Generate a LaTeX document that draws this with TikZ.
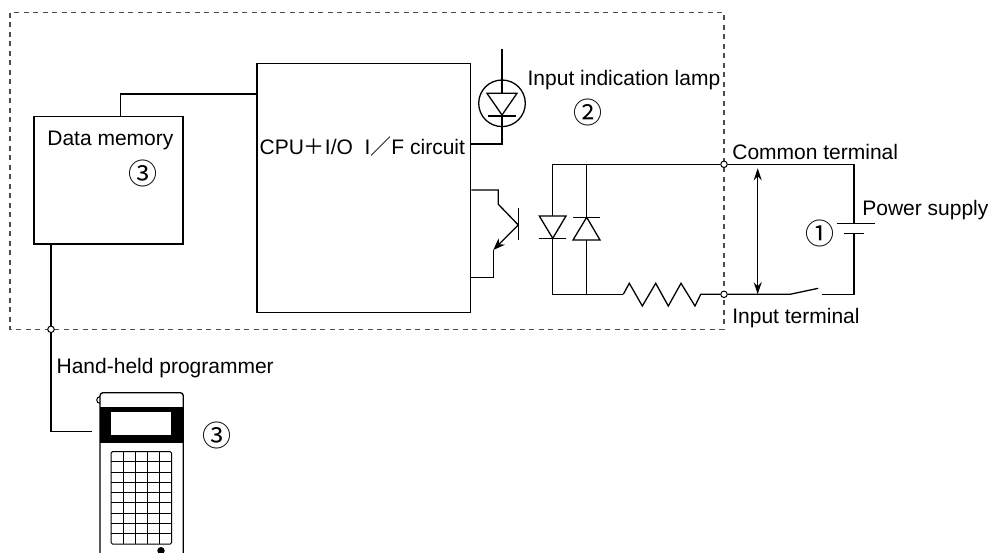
\documentclass[tikz,border=0pt]{standalone}
\usepackage{fontspec}
\setmainfont{Liberation Sans}
\newfontfamily\cjkfont{Noto Sans CJK JP}
\usetikzlibrary{arrows.meta}

\begin{document}
\begin{tikzpicture}[x=1pt,y=-1pt,line width=1.3pt,line join=miter,
  box/.style={draw,rectangle,inner sep=0pt,line width=1.3pt},
  lbl/.style={font=\fontsize{21}{24}\selectfont,inner sep=0pt,anchor=base west},
  num/.style={font=\cjkfont\fontsize{29}{32}\selectfont,inner sep=0pt},
  term/.style={circle,draw,fill=white,inner sep=0pt,minimum size=6.5pt,line width=1pt},
  border/.style={draw=black!70,dash pattern=on 5pt off 4.5pt,line width=1.2pt},
  tip/.style={-{Stealth[length=12pt,width=9pt]}},
  dtip/.style={{Stealth[length=12pt,width=8pt]}-{Stealth[length=12pt,width=8pt]}}]
\useasboundingbox (0,0) rectangle (992,553);

% unit outline
\draw[border] (10,12.7) rectangle (724,329.3);

% blocks
\node[box,minimum width=149pt,minimum height=127.3pt] (dm) at (108.5,180.3) {};
\node[box,minimum width=213.7pt,minimum height=249.2pt] (cpu) at (363.85,187.9) {};

% memory bus
\coordinate (dmtap) at (120.7,116.7);
\coordinate (bend) at (120.7,94);
\draw (dmtap) -- (bend) -- (bend -| cpu.west);

% indication lamp
\node[circle,draw,minimum size=46.6pt,inner sep=0pt] (lamp) at (502,103.3) {};
\coordinate (lamptop) at (502,49.3);
\coordinate (ledA) at (502,93.3);
\coordinate (ledK) at (502,116);
\coordinate (lampret) at (502,144);
\draw (lamptop) -- (ledA);
\draw (487,93.3) -- (517,93.3) -- (502,115) -- cycle;
\draw (488,116) -- (516,116);
\draw (ledK) -- (lampret) -- (lampret -| cpu.east);

% phototransistor
\coordinate (tc1) at (498.3,190);
\coordinate (tc2) at (498.3,204.3);
\coordinate (tb) at (518.3,225);
\coordinate (te) at (493.3,250);
\coordinate (te2) at (493.3,277.3);
\draw (tc1 -| cpu.east) -- (tc1) -- (tc2) -- (tb);
\draw (518.3,208.3) -- (518.3,240);
\draw[tip] (tb) -- (te);
\draw (te) -- (te2) -- (te2 -| cpu.east);

% input terminals
\node[term] (com) at (724,164.3) {};
\node[term] (inp) at (724,294.3) {};

% anti-parallel LED pair
\coordinate (d1t) at (552.7,164.3);
\coordinate (d1b) at (552.7,294.3);
\coordinate (d2t) at (586.7,164.3);
\coordinate (d2b) at (586.7,294.3);
\coordinate (rs) at (623.3,294.3);
\draw (com) -- (d1t) -- (552.7,216);
\draw (539.3,216) -- (566,216) -- (552.7,238.3) -- cycle;
\draw (539.3,238.3) -- (566,238.3);
\draw (552.7,238.3) -- (d1b) -- (rs);
\draw (d2t) -- (586.7,217.3);
\draw (573,217.3) -- (600,217.3);
\draw (573,240) -- (600,240) -- (586.7,217.3) -- cycle;
\draw (586.7,240) -- (d2b);

% input resistor
\draw (rs) -- (629.3,283.3) -- (642.3,306) -- (655.7,283.3) -- (668.3,306)
      -- (681,283.3) -- (695,306) -- (700.7,294.3) -- (inp);

% external switch and supply
\coordinate (sw1) at (790,294.3);
\coordinate (sw2) at (821.7,294.3);
\coordinate (psb) at (854,294.3);
\coordinate (pst) at (854,164.3);
\draw (inp) -- (sw1) -- (818.3,288.3);
\draw (sw2) -- (psb) -- (854,233.3);
\draw (844,233.3) -- (864,233.3);
\draw (836.7,223.3) -- (875,223.3);
\draw (854,223.3) -- (pst) -- (com);
\draw[dtip] (757.7,168.3) -- (757.7,294.3);

% programmer cable
\coordinate (dmout) at (51,244);
\node[term] (pj) at (51,329.3) {};
\coordinate (cab) at (51,431.7);
\coordinate (cabend) at (92.3,431.7);
\draw (dmout) -- (pj) -- (cab) -- (cabend);

% hand-held programmer
\draw[rounded corners=3pt] (100,553) -- (100,392.7) -- (183.3,392.7) -- (183.3,553);
\draw[line width=1pt] (100,403.3) arc[start angle=90,end angle=270,radius=3.3];
\fill (100,407.3) rectangle (183.3,443.3);
\fill[white] (111,412.3) rectangle (171,435);
\draw[line width=1pt,rounded corners=1.5pt] (111,451.7) rectangle (171.7,544);
\foreach \i in {1,...,4}
  \draw[line width=1pt] ({111+\i*12.14},451.7) -- ({111+\i*12.14},544);
\foreach \j in {1,...,8}
  \draw[line width=1pt] (111,{451.7+\j*10.256}) -- (171.7,{451.7+\j*10.256});
\fill (161,550.7) circle[radius=3.7];

% labels
\node[lbl] (tdm) at (46.7,146) {Data memory};
\node[num] (n3a) at (143.3,173) {③};
\node[lbl] (tcpu) at (259,155) {CPU{\cjkfont ＋}I/O\ \ I{\cjkfont ／}F circuit};
\node[lbl] (tlamp) at (527,86) {Input indication lamp};
\node[num] (n2) at (588,112.5) {②};
\node[lbl] (tcom) at (731.7,159.3) {Common terminal};
\node[lbl] (tps) at (861.7,216) {Power supply};
\node[num] (n1) at (819.7,233) {①};
\node[lbl] (tinp) at (731.7,323.3) {Input terminal};
\node[lbl] (thhp) at (56,373.3) {Hand-held programmer};
\node[num] (n3b) at (217,435.8) {③};
\end{tikzpicture}
\end{document}
